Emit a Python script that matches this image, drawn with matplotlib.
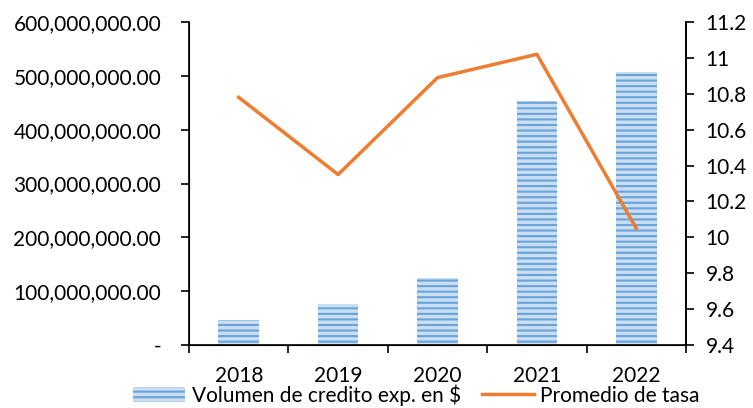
import matplotlib
matplotlib.use("Agg")
import matplotlib.pyplot as plt
import matplotlib.ticker as mticker
import numpy as np

years = ["2018", "2019", "2020", "2021", "2022"]
volumen = [46e6, 76e6, 124e6, 453e6, 507e6]
tasa = [10.78, 10.35, 10.89, 11.02, 10.05]

plt.rcParams['font.family'] = ['Lato', 'DejaVu Sans']
plt.rcParams['hatch.linewidth'] = 1.5

fig = plt.figure(figsize=(7.53, 4.08), dpi=100)
ax = fig.add_axes([189/753, 1-345/408, (686-189)/753, (345-22)/408])
x = np.arange(len(years))
bars = ax.bar(x, volumen, width=0.41, color='#c9def2', edgecolor='#68a3da',
              linewidth=0, hatch='---', label='Volumen de credito exp. en $')
ax.set_xlim(-0.5, 4.5)
ax.set_ylim(0, 600e6)
ax.set_yticks(np.arange(0, 600e6 + 1, 100e6))
ax.yaxis.set_major_formatter(mticker.FuncFormatter(lambda v, p: '-' if v == 0 else f'{v:,.2f}'))
ax.set_xticks(x)
ax.set_xticklabels(years)
ax.set_xticks(np.arange(-0.5, 4.6, 1), minor=True)
ax.tick_params(axis='x', which='major', length=0, labelsize=15, pad=15)
ax.tick_params(axis='x', which='minor', length=6, width=1.2)
ax.tick_params(axis='y', length=6, width=1.2, labelsize=15, pad=14)
ax.spines['top'].set_visible(False)
for s in ['left', 'bottom', 'right']:
    ax.spines[s].set_linewidth(1.2)

ax2 = ax.twinx()
ax2.plot(x, tasa, color='#ed7d31', linewidth=2.5, label='Promedio de tasa')
ax2.set_ylim(9.4, 11.2)
ax2.set_yticks(np.round(np.arange(9.4, 11.21, 0.2), 1))
ax2.yaxis.set_major_formatter(mticker.FuncFormatter(lambda v, p: f'{v:g}'))
ax2.tick_params(axis='y', length=6, width=1.2, labelsize=15, pad=8)
ax2.spines['top'].set_visible(False)
ax2.spines['right'].set_linewidth(1.2)

h1, l1 = ax.get_legend_handles_labels()
h2, l2 = ax2.get_legend_handles_labels()
fig.legend(h1 + h2, l1 + l2, loc='lower center', bbox_to_anchor=(0.553, -0.04), ncol=2,
           frameon=False, fontsize=15, handlelength=2.5, handleheight=0.7,
           columnspacing=1.0, handletextpad=0.3)

fig.savefig('out.png', dpi=100)
